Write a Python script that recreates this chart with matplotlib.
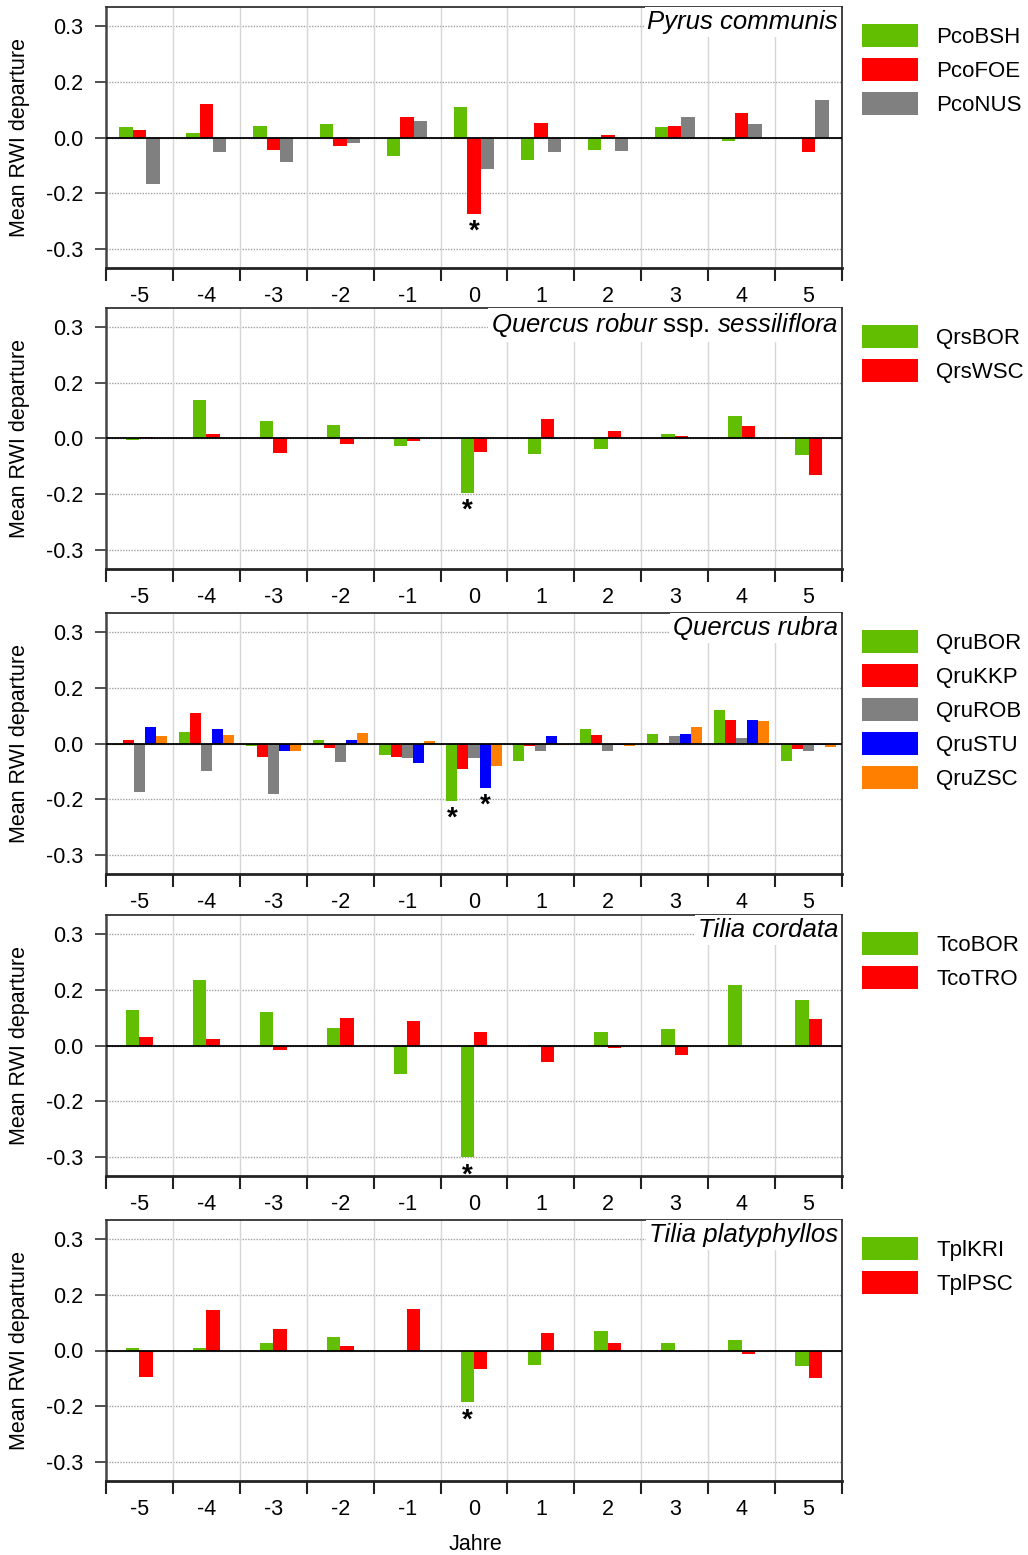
import matplotlib
matplotlib.use('Agg')
import matplotlib.pyplot as plt
import numpy as np

plt.rcParams['font.family'] = ['Liberation Sans', 'DejaVu Sans']
plt.rcParams['mathtext.fontset'] = 'custom'
plt.rcParams['mathtext.it'] = 'Liberation Sans:italic'
plt.rcParams['mathtext.rm'] = 'Liberation Sans'

# years relative to event
years = [-5, -4, -3, -2, -1, 0, 1, 2, 3, 4, 5]

# Pyrus communis
pco_bsh = [0.027, 0.011, 0.032, 0.037, -0.049, 0.081, -0.060, -0.033, 0.029, -0.010, -0.002]
pco_foe = [0.021, 0.091, -0.034, -0.023, 0.054, -0.204, 0.039, 0.007, 0.030, 0.066, -0.038]
pco_nus = [-0.124, -0.038, -0.065, -0.014, 0.043, -0.085, -0.038, -0.035, 0.056, 0.035, 0.101]

# Quercus robur ssp. sessiliflora
qrs_bor = [-0.004, 0.102, 0.048, 0.037, -0.021, -0.145, -0.042, -0.029, 0.013, 0.061, -0.045]
qrs_wsc = [0.005, 0.013, -0.039, -0.016, -0.006, -0.035, 0.051, 0.020, 0.006, 0.034, -0.098]

# Quercus rubra
qru_bor = [-0.005, 0.031, -0.008, 0.010, -0.032, -0.153, -0.046, 0.038, 0.025, 0.090, -0.046]
qru_kkp = [0.009, 0.082, -0.036, -0.012, -0.037, -0.068, -0.006, 0.022, 0.002, 0.062, -0.014]
qru_rob = [-0.129, -0.073, -0.136, -0.050, -0.039, -0.040, -0.020, -0.020, 0.021, 0.014, -0.020]
qru_stu = [0.044, 0.040, -0.019, 0.010, -0.052, -0.119, 0.021, -0.004, 0.026, 0.063, -0.003]
qru_zsc = [0.021, 0.023, -0.020, 0.028, 0.007, -0.061, -0.004, -0.007, 0.044, 0.061, -0.010]

# Tilia cordata
tco_bor = [0.094, 0.175, 0.091, 0.046, -0.076, -0.300, 0.001, 0.036, 0.044, 0.161, 0.122]
tco_tro = [0.023, 0.017, -0.011, 0.075, 0.066, 0.037, -0.043, -0.007, -0.026, -0.002, 0.070]

# Tilia platyphyllos
tpl_kri = [0.006, 0.006, 0.019, 0.036, -0.002, -0.139, -0.038, 0.052, 0.021, 0.029, -0.041]
tpl_psc = [-0.071, 0.109, 0.057, 0.013, 0.111, -0.049, 0.046, 0.019, -0.002, -0.009, -0.075]

ytick_vals = [-0.3, -0.15, 0.0, 0.15, 0.3]
ytick_labels = ['-0.3', '-0.2', '0.0', '0.2', '0.3']

green, red, grey, blue, orange = '#62be00', '#ff0000', '#808080', '#0000ff', '#ff8000'

panels = [
    (r'Pyrus communis', False,
     [('PcoBSH', pco_bsh, green), ('PcoFOE', pco_foe, red), ('PcoNUS', pco_nus, grey)],
     [('PcoFOE', 0)]),
    (r'$\mathit{Quercus\ robur}$ ssp. $\mathit{sessiliflora}$', True,
     [('QrsBOR', qrs_bor, green), ('QrsWSC', qrs_wsc, red)],
     [('QrsBOR', 0)]),
    (r'Quercus rubra', False,
     [('QruBOR', qru_bor, green), ('QruKKP', qru_kkp, red), ('QruROB', qru_rob, grey),
      ('QruSTU', qru_stu, blue), ('QruZSC', qru_zsc, orange)],
     [('QruBOR', 0), ('QruSTU', 0)]),
    (r'Tilia cordata', False,
     [('TcoBOR', tco_bor, green), ('TcoTRO', tco_tro, red)],
     [('TcoBOR', 0)]),
    (r'Tilia platyphyllos', False,
     [('TplKRI', tpl_kri, green), ('TplPSC', tpl_psc, red)],
     [('TplKRI', 0)]),
]

W, H = 1028, 1555
fig = plt.figure(figsize=(W / 100, H / 100), dpi=100)

tops = [7, 308, 613, 915, 1220]
ax_h = 261
left, ax_w = 106, 736

x = np.array(years, dtype=float)
for (title, mixed, series, stars), top in zip(panels, tops):
    ax = fig.add_axes([left / W, 1 - (top + ax_h) / H, ax_w / W, ax_h / H])
    n = len(series)
    w = 0.2 if n <= 3 else 0.165
    handles = []
    pos = {}
    for i, (name, vals, col) in enumerate(series):
        off = (i - (n - 1) / 2) * w
        b = ax.bar(x + off, vals, width=w, color=col, linewidth=0, zorder=3)
        handles.append(b)
        pos[name] = (off, vals)
    for name, yr in stars:
        off, vals = pos[name]
        k = years.index(yr)
        ax.annotate('*', (yr + off, vals[k]), xytext=(0, -18), textcoords='offset points',
                    ha='center', va='baseline', fontsize=20, fontweight='bold', zorder=5)

    ax.axhline(0, color='black', lw=1.3, zorder=4)
    ax.set_xlim(-5.5, 5.5)
    ax.set_ylim(-0.35, 0.35)

    # boundaries as major ticks, labels on minor ticks at category centers
    ax.set_xticks(np.arange(-5.5, 6.0, 1.0))
    ax.set_xticklabels([])
    ax.set_xticks(x, minor=True)
    ax.set_xticklabels([str(y) for y in years], minor=True)
    ax.tick_params(axis='x', which='major', direction='out', length=9, width=1.5, color='#222222')
    ax.tick_params(axis='x', which='minor', length=0, pad=13, labelsize=15.5)
    ax.set_yticks(ytick_vals)
    ax.set_yticklabels(ytick_labels)
    ax.tick_params(axis='y', direction='out', length=8, width=1.2, pad=8.5, labelsize=15.5, color='#333333')

    for yv in ytick_vals:
        ax.axhline(yv, color='#a0a0a0', lw=1.0, ls=(0, (1, 1)), zorder=1)
    for xv in np.arange(-4.5, 5.0, 1.0):
        ax.axvline(xv, color='#d6d6d6', lw=1.0, zorder=1)

    for s in ['top', 'right']:
        ax.spines[s].set_color('#333333')
        ax.spines[s].set_linewidth(1.3)
    ax.spines['left'].set_color('#444444')
    ax.spines['left'].set_linewidth(1.8)
    ax.spines['bottom'].set_color('#222222')
    ax.spines['bottom'].set_linewidth(2.0)

    ax.set_ylabel('Mean RWI departure', fontsize=15.5)
    ax.yaxis.set_label_coords(-76 / ax_w, 0.5)

    ax.text(1 - 4 / ax_w, 1 - 3 / ax_h, title, transform=ax.transAxes, ha='right', va='top',
            fontsize=18.5, fontstyle='normal' if mixed else 'italic', zorder=6,
            bbox=dict(facecolor='white', edgecolor='none', pad=2))

    ax.legend(handles, [s[0] for s in series], loc='upper left',
              bbox_to_anchor=(1 + 20 / ax_w, 1 - 17 / ax_h), frameon=False,
              fontsize=16, handlelength=2.5, handleheight=1.2, labelspacing=0.46,
              handletextpad=0.85, borderpad=0, borderaxespad=0)

fig.text(475 / W, 1 - 1545 / H, 'Jahre', ha='center', va='center', fontsize=15.5)

fig.savefig('out.png', dpi=100)
